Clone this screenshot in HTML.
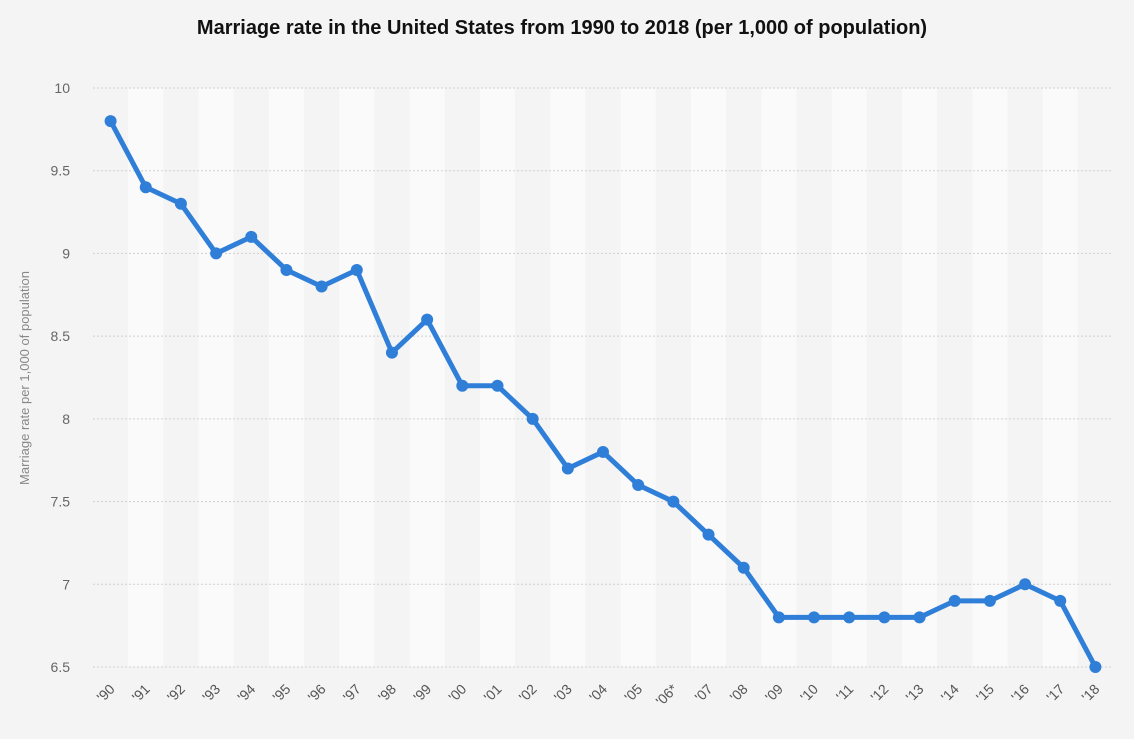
<!DOCTYPE html>
<html><head><meta charset="utf-8"><style>
body{margin:0;background:#f4f4f4;font-family:"Liberation Sans",sans-serif;}
svg{display:block}
</style></head><body>
<svg id="c" width="1134" height="739">
<rect width="1134" height="739" fill="#f4f4f4"/>
<text x="562" y="34" text-anchor="middle" font-size="20" font-weight="bold" fill="#111">Marriage rate in the United States from 1990 to 2018 (per 1,000 of population)</text>
<text transform="translate(29,378) rotate(-90)" text-anchor="middle" font-size="13" fill="#888">Marriage rate per 1,000 of population</text>
<g id="bands"></g><g id="grid"></g><g id="xl"></g><g id="line"></g>
</svg>
<script>
const categories=["'90","'91","'92","'93","'94","'95","'96","'97","'98","'99","'00","'01","'02","'03","'04","'05","'06*","'07","'08","'09","'10","'11","'12","'13","'14","'15","'16","'17","'18"];
const values=[9.8,9.4,9.3,9.0,9.1,8.9,8.8,8.9,8.4,8.6,8.2,8.2,8.0,7.7,7.8,7.6,7.5,7.3,7.1,6.8,6.8,6.8,6.8,6.8,6.9,6.9,7.0,6.9,6.5];
const yTicks=[6.5,7,7.5,8,8.5,9,9.5,10];
const NS="http://www.w3.org/2000/svg";
const X0=93,X1=1113,Y0=667,Y1=88,ymin=6.5,ymax=10;
const bw=(X1-X0)/categories.length;
function xs(i){return X0+bw*(i+0.5);}
function ys(v){return Y0-(v-ymin)/(ymax-ymin)*(Y0-Y1);}
function mk(t,a,p){const e=document.createElementNS(NS,t);for(const k in a)e.setAttribute(k,a[k]);p.appendChild(e);return e;}
const B=document.getElementById('bands'),G=document.getElementById('grid'),XL=document.getElementById('xl'),L=document.getElementById('line');
categories.forEach((c,i)=>{
 const r=mk('rect',{x:X0+bw*i,y:Y1,width:bw,height:Y0-Y1,fill:i%2?'#fafafa':'#f4f4f4'},B);
 
 
 const t=mk('text',{x:xs(i)+5,y:Y0+23,'text-anchor':'end','font-size':14,fill:'#555',transform:`rotate(-45 ${xs(i)+5} ${Y0+23})`},XL);
 t.textContent=c;
 
 
});
yTicks.forEach(v=>{
 const l=mk('line',{x1:X0,x2:X1,y1:ys(v),y2:ys(v),stroke:'#cfcfcf','stroke-dasharray':'2,2'},G);
 
 
 const t=mk('text',{x:70,y:ys(v)+5,'text-anchor':'end','font-size':14,fill:'#666'},G);
 t.textContent=String(v);
 
 
});
const p=mk('polyline',{points:values.map((v,i)=>xs(i)+','+ys(v)).join(' '),fill:'none',stroke:'#2f7ed8','stroke-width':5,'stroke-linejoin':'round'},L);


values.forEach((v,i)=>{
 const c=mk('circle',{cx:xs(i),cy:ys(v),r:6,fill:'#2f7ed8'},L);
 
 
});
</script>
</body></html>
